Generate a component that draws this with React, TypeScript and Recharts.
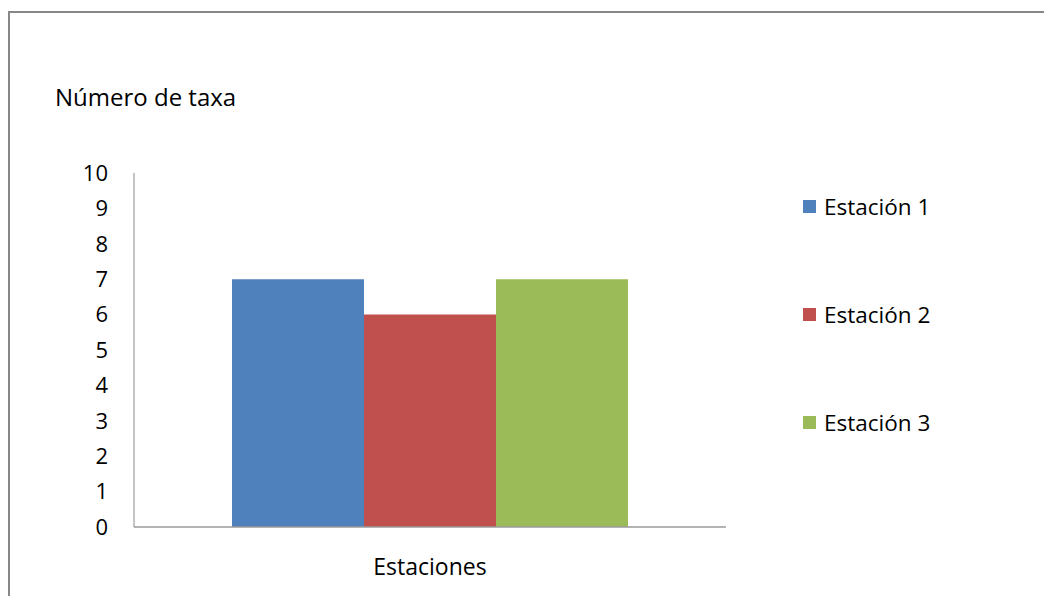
import React from "react";
import { BarChart, Bar, XAxis, YAxis, Legend } from "recharts";

const categories = ["Estaciones"];
const seriesNames = ["Estación 1", "Estación 2", "Estación 3"];
const seriesValues = [7, 6, 7];
const seriesColors = ["#4F81BD", "#C0504D", "#9BBB59"];
const yTicks = [0, 1, 2, 3, 4, 5, 6, 7, 8, 9, 10];
const yTitle = "Número de taxa";

const data = categories.map((c) => {
  const row: Record<string, string | number> = { category: c };
  seriesNames.forEach((s, i) => {
    row[s] = seriesValues[i];
  });
  return row;
});

const FONT = "'Open Sans', sans-serif";

const renderLegend = (props: any) => {
  const { payload } = props;
  return (
    <div style={{ fontFamily: FONT }}>
      {payload.map((entry: any) => (
        <div
          key={entry.value}
          style={{ display: "flex", alignItems: "center", height: 108 }}
        >
          <span
            style={{
              display: "inline-block",
              width: 13,
              height: 13,
              background: entry.color,
              marginRight: 8,
            }}
          />
          <span style={{ fontSize: 22.5, color: "#000" }}>{entry.value}</span>
        </div>
      ))}
    </div>
  );
};

const YTitle = (props: any) => {
  const { viewBox } = props;
  return (
    <text
      x={55}
      y={viewBox.y - 67}
      fontSize={24}
      fontFamily={FONT}
      fill="#000"
    >
      {yTitle}
    </text>
  );
};

export default function App() {
  return (
    <div
      style={{
        position: "absolute",
        left: 0,
        top: 0,
        width: 1044,
        height: 596,
        overflow: "hidden",
        background: "#fff",
      }}
    >
      <div
        style={{
          position: "absolute",
          left: 8,
          top: 11,
          width: 1100,
          height: 700,
          border: "2px solid #878787",
          boxSizing: "border-box",
        }}
      />
      <div style={{ position: "absolute", left: 0, top: 0 }}>
        <BarChart
          width={1044}
          height={596}
          data={data}
          margin={{ top: 173, right: 318, bottom: 0, left: 0 }}
          barCategoryGap={98}
          barGap={0}
          style={{ fontFamily: FONT }}
        >
          <XAxis
            dataKey="category"
            height={69}
            stroke="#9a9a9a"
            strokeWidth={1.5}
            tickLine={false}
            tickSize={0}
            tickMargin={32}
            tick={{ fontSize: 23, fill: "#000", fontFamily: FONT }}
          />
          <YAxis
            width={134}
            domain={[0, 10]}
            ticks={yTicks}
            interval={0}
            stroke="#8a8a8a"
            tickLine={false}
            tickSize={0}
            tickMargin={26}
            tick={{ fontSize: 22, fill: "#000", fontFamily: FONT }}
            label={{ content: YTitle }}
          />
          <Legend
            layout="vertical"
            align="center"
            verticalAlign="middle"
            content={renderLegend}
            wrapperStyle={{ left: 803, top: 152, width: 220, height: 330 }}
          />
          {seriesNames.map((s, i) => (
            <Bar
              key={s}
              dataKey={s}
              fill={seriesColors[i]}
              isAnimationActive={false}
            />
          ))}
        </BarChart>
      </div>
    </div>
  );
}
